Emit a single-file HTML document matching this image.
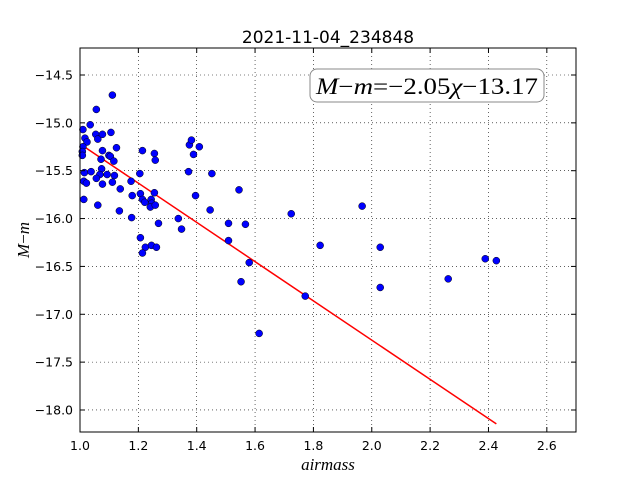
<!DOCTYPE html>
<html><head><meta charset="utf-8"><style>
html,body{margin:0;padding:0;background:#fff;}
svg{display:block;font-family:"DejaVu Sans","Liberation Sans",sans-serif;}
</style></head><body>
<svg id="chart" width="640" height="480" viewBox="0 0 640 480" xmlns="http://www.w3.org/2000/svg">
<rect width="640" height="480" fill="#fff"/>
<text x="328" y="43" text-anchor="middle" font-size="17">2021-11-04_234848</text>
<g id="grid"></g>
<g id="fit"></g>
<g id="pts"></g>
<rect x="80" y="48" width="496" height="384" fill="none" stroke="#000" stroke-width="1"/>
<g id="ticks"></g>
<g>
<rect x="310" y="69" width="234" height="33" rx="7" fill="#fff" stroke="#888" stroke-width="1"/>
<text x="427" y="94" text-anchor="middle" font-family="Liberation Serif,serif" font-size="23" textLength="222" lengthAdjust="spacingAndGlyphs"><tspan font-style="italic">M</tspan>−<tspan font-style="italic">m</tspan>=−2.05<tspan font-style="italic">χ</tspan>−13.17</text>
</g>
<text x="328" y="470" text-anchor="middle" font-family="Liberation Serif,serif" font-style="italic" font-size="17">airmass</text>
<text transform="translate(29,240) rotate(-90)" text-anchor="middle" font-family="Liberation Serif,serif" font-size="17"><tspan font-style="italic">M</tspan>−<tspan font-style="italic">m</tspan></text>
</svg>
<script>
const xTicks=[1.0,1.2,1.4,1.6,1.8,2.0,2.2,2.4,2.6];
const yTicks=[-14.5,-15.0,-15.5,-16.0,-16.5,-17.0,-17.5,-18.0];
const airmass=[1.111,1.056,1.035,1.010,1.017,1.024,1.054,1.061,1.077,1.106,1.010,1.008,1.008,1.077,1.125,1.099,1.104,1.116,1.072,1.074,1.015,1.038,1.068,1.056,1.093,1.118,1.013,1.022,1.077,1.111,1.138,1.013,1.061,1.135,1.177,1.175,1.179,1.205,1.214,1.255,1.258,1.207,1.214,1.222,1.244,1.246,1.241,1.258,1.255,1.269,1.207,1.224,1.214,1.245,1.262,1.337,1.348,1.375,1.382,1.389,1.409,1.372,1.452,1.396,1.446,1.509,1.567,1.509,1.545,1.580,1.552,1.614,1.772,1.724,1.823,1.967,2.029,2.029,2.262,2.389,2.427];
const mag=[-14.71,-14.86,-15.02,-15.07,-15.16,-15.20,-15.12,-15.17,-15.12,-15.10,-15.25,-15.30,-15.34,-15.29,-15.26,-15.34,-15.35,-15.40,-15.38,-15.48,-15.52,-15.51,-15.54,-15.58,-15.54,-15.55,-15.61,-15.63,-15.64,-15.62,-15.69,-15.80,-15.86,-15.92,-15.99,-15.61,-15.76,-15.53,-15.29,-15.32,-15.39,-15.74,-15.80,-15.83,-15.80,-15.84,-15.88,-15.86,-15.73,-16.05,-16.20,-16.30,-16.36,-16.28,-16.30,-16.00,-16.11,-15.23,-15.18,-15.33,-15.25,-15.51,-15.53,-15.76,-15.91,-16.05,-16.06,-16.23,-15.70,-16.46,-16.66,-17.20,-16.81,-15.95,-16.28,-15.87,-16.30,-16.72,-16.63,-16.42,-16.44];
const fitSlope=-2.05, fitIntercept=-13.17;
const NS='http://www.w3.org/2000/svg';
const X0=80,X1=576,Y0=48,Y1=432,xmin=1.0,xmax=2.7,ymin=-18.23,ymax=-14.218;
function sx(v){return X0+(v-xmin)/(xmax-xmin)*(X1-X0);}
function sy(v){return Y1-(v-ymin)/(ymax-ymin)*(Y1-Y0);}
function mk(tag,attrs,parent){const e=document.createElementNS(NS,tag);for(const k in attrs)e.setAttribute(k,attrs[k]);parent.appendChild(e);return e;}
const grid=document.getElementById('grid'),ticks=document.getElementById('ticks');
xTicks.forEach(t=>{const x=sx(t);
 const g=mk('line',{x1:x,x2:x,y1:Y0,y2:Y1,stroke:'#000','stroke-width':0.6,'stroke-dasharray':'1,3'},grid);
 
 
 mk('line',{x1:x,x2:x,y1:Y1,y2:Y1-5,stroke:'#000'},ticks);
 mk('line',{x1:x,x2:x,y1:Y0,y2:Y0+5,stroke:'#000'},ticks);
 const l=mk('text',{x:x,y:Y1+18,'text-anchor':'middle','font-size':12.5},ticks);
 l.textContent=t.toFixed(1);
 
 
});
yTicks.forEach(t=>{const y=sy(t);
 const g=mk('line',{x1:X0,x2:X1,y1:y,y2:y,stroke:'#000','stroke-width':0.6,'stroke-dasharray':'1,3'},grid);
 
 
 mk('line',{x1:X0,x2:X0+5,y1:y,y2:y,stroke:'#000'},ticks);
 mk('line',{x1:X1,x2:X1-5,y1:y,y2:y,stroke:'#000'},ticks);
 const l=mk('text',{x:X0-7,y:y+4.5,'text-anchor':'end','font-size':12.5},ticks);
 l.textContent=t.toFixed(1).replace('-','−');
 
 
});
const pts=document.getElementById('pts');
airmass.forEach((a,i)=>{
 const c=mk('circle',{cx:sx(a),cy:sy(mag[i]),r:3.5,fill:'#0000ff',stroke:'#000','stroke-width':0.5},pts);
 
 
});
const xa=Math.min(...airmass),xb=Math.max(...airmass);
const fl=mk('line',{x1:sx(xa),y1:sy(fitSlope*xa+fitIntercept),x2:sx(xb),y2:sy(fitSlope*xb+fitIntercept),stroke:'#ff0000','stroke-width':1.5},document.getElementById('fit'));


</script>
</body></html>
